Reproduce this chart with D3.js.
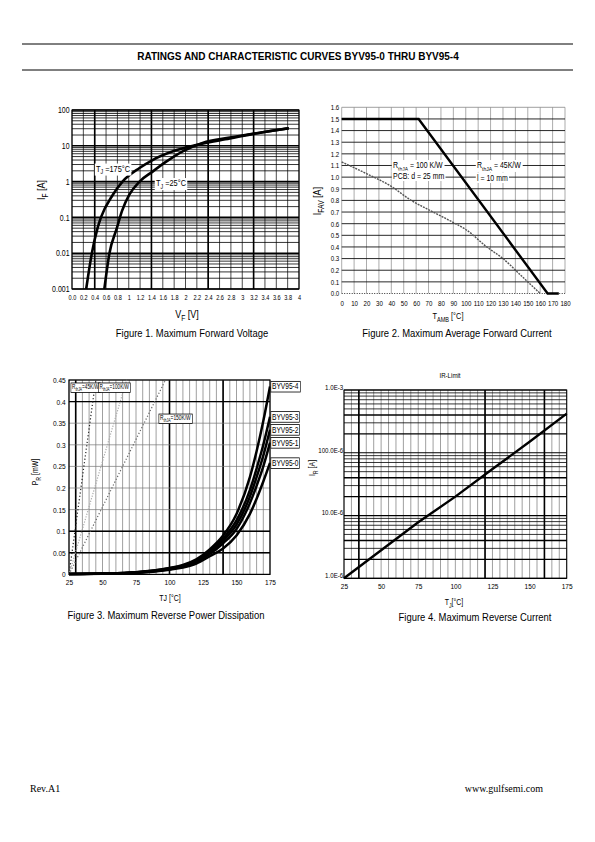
<!DOCTYPE html>
<html><head><meta charset="utf-8">
<script src="https://cdn.jsdelivr.net/npm/d3@7"></script>
<style>
body{margin:0;background:#fff}
svg{display:block}
text{font-family:"Liberation Sans",Arial,sans-serif;fill:#000}
</style>
</head><body>
<svg id="c" width="595" height="842"></svg>
<script>
// ---------------- DATA ----------------
// Figure 1 : forward characteristic
const fig1XTickValues = [0,0.2,0.4,0.6,0.8,1,1.2,1.4,1.6,1.8,2,2.2,2.4,2.6,2.8,3,3.2,3.4,3.6,3.8,4];
const fig1XTickLabels = ["0.0","0.2","0.4","0.6","0.8","1","1.2","1.4","1.6","1.8","2","2.2","2.4","2.6","2.8","3","3.2","3.4","3.6","3.8","4"];
const fig1YTickValues = [0.001,0.01,0.1,1,10,100];
const fig1YTickLabels = ["0.001","0.01","0.1","1","10","100"];
const fig1V175 = [0.25,0.35,0.45,0.51,0.72,0.89,1.19,1.42,1.78,2.19,2.78,3.36,3.82];
const fig1I175 = [0.001,0.01,0.05,0.1,0.43,1,2.4,4,7,10.5,16,24,31];
const fig1V25  = [0.57,0.66,0.79,0.88,1.01,1.19,1.42,1.66,1.95,2.3,2.78,3.36,3.82];
const fig1I25  = [0.001,0.01,0.05,0.15,0.43,1,1.9,3.6,7,12,17,24,31];
const fig1ThickV = [0.4,1.4,2.4,3.2];

// Figure 2 : derating
const fig2XTickValues = [0,10,20,30,40,50,60,70,80,90,100,110,120,130,140,150,160,170,180];
const fig2YTickValues = [0,0.1,0.2,0.3,0.4,0.5,0.6,0.7,0.8,0.9,1.0,1.1,1.2,1.3,1.4,1.5,1.6];
const fig2T45  = [0,62,166,175];
const fig2I45  = [1.5,1.5,0,0];
const fig2T100 = [0,20,40,56,70,90,100,117,130,145,160];
const fig2I100 = [1.13,1.03,0.92,0.80,0.72,0.61,0.55,0.40,0.30,0.15,0.0];

// Figure 3 : reverse power dissipation
const fig3XTickValues = [25,50,75,100,125,150,175];
const fig3YTickValues = [0,0.05,0.1,0.15,0.2,0.25,0.3,0.35,0.4,0.45];
const fig3YTickLabels = ["0","0.05","0.1","0.15","0.2","0.25","0.3","0.35","0.4","0.45"];
const fig3Temps = [25,50,75,100,110,120,130,140,150,160,165,170,175];
const fig3Names = ["BYV95-4","BYV95-3","BYV95-2","BYV95-1","BYV95-0"];
const fig3P4 = [0.001,0.002,0.005,0.015,0.022,0.035,0.058,0.09,0.14,0.225,0.285,0.355,0.435];
const fig3P3 = [0.001,0.002,0.005,0.014,0.020,0.032,0.053,0.083,0.125,0.195,0.245,0.300,0.365];
const fig3P2 = [0.001,0.002,0.0045,0.013,0.019,0.030,0.050,0.078,0.115,0.180,0.225,0.275,0.335];
const fig3P1 = [0.001,0.0018,0.004,0.012,0.018,0.028,0.047,0.072,0.105,0.165,0.205,0.250,0.305];
const fig3P0 = [0.001,0.0015,0.0035,0.011,0.016,0.025,0.042,0.060,0.090,0.140,0.175,0.215,0.258];
const fig3RthLabels = ["=45K/W","=100K/W","=150K/W"];
const fig3RthT = [[25,45],[25,68],[25,97]];
const fig3RthP = [[0,0.45],[0,0.45],[0,0.45]];
const fig3ThickV = [30,100,140];
const fig3ThickH = [0.05,0.1,0.4];

// Figure 4 : reverse current
const fig4XTickValues = [25,50,75,100,125,150,175];
const fig4YTickValues = [1e-6,1e-5,1e-4,1e-3];
const fig4YTickLabels = ["1.0E-6","10.0E-6","100.0E-6","1.0E-3"];
const fig4Temps = [25,50,75,100,125,150,175];
const fig4IR = [1.0e-6,2.8e-6,7.8e-6,2.0e-5,5.5e-5,1.5e-4,4.2e-4];
const fig4ThickV = [35,120,160];

// ---------------- DRAW ----------------
const svg = d3.select("#c");
const NARROW = 0.82;

// header / footer
svg.append("line").attr("x1",22).attr("x2",573).attr("y1",44).attr("y2",44).attr("stroke","#000").attr("stroke-width",1);
svg.append("line").attr("x1",22).attr("x2",573).attr("y1",70).attr("y2",70).attr("stroke","#000").attr("stroke-width",1);
svg.append("text").attr("x",298).attr("y",60).attr("text-anchor","middle")
  .style("font-weight","bold").style("font-size","10px")
  .text("RATINGS AND CHARACTERISTIC CURVES BYV95-0 THRU BYV95-4");
svg.append("text").attr("x",30).attr("y",792).style("font-family","'Liberation Serif','Times New Roman',serif").style("font-size","10px").text("Rev.A1");
svg.append("text").attr("x",543).attr("y",792).attr("text-anchor","end").style("font-family","'Liberation Serif','Times New Roman',serif").style("font-size","10px").text("www.gulfsemi.com");

function hline(g,x0,x1,y,stroke,w,dash){const l=g.append("line").attr("x1",x0).attr("x2",x1).attr("y1",y).attr("y2",y).attr("stroke",stroke).attr("stroke-width",w);if(dash)l.attr("stroke-dasharray",dash);return l;}
function vline(g,x,y0,y1,stroke,w,dash){const l=g.append("line").attr("x1",x).attr("x2",x).attr("y1",y0).attr("y2",y1).attr("stroke",stroke).attr("stroke-width",w);if(dash)l.attr("stroke-dasharray",dash);return l;}
function styleAxis(g,fs,k){g.select(".domain").remove();g.selectAll(".tick line").remove();g.selectAll("text").style("font-size",fs+"px").style("font-family",null).attr("fill","#000").attr("transform",`scale(${k||NARROW},1)`);}
function ntext(g,x,y,str,fs,k,anchor){
  const gg=g.append("g").attr("transform",`translate(${x},${y}) scale(${k||NARROW},1)`);
  return gg.append("text").attr("text-anchor",anchor||"middle").style("font-size",fs+"px").text(str);
}
function subLabel(g,x,y,main,sub,rest,fs,rotate,k){
  const gg=g.append("g").attr("transform",`translate(${x},${y}) ${rotate?"rotate(-90)":""} scale(${k||NARROW},1)`);
  const t=gg.append("text").attr("text-anchor","middle").style("font-size",fs+"px");
  t.append("tspan").text(main);
  t.append("tspan").attr("dy",fs*0.3).style("font-size",(fs*0.75)+"px").text(sub);
  t.append("tspan").attr("dy",-fs*0.3).text(rest);
  return t;
}
function labelBox(g,x,y,parts,fs,border,k){
  const gg=g.append("g").attr("transform",`translate(${x},${y}) scale(${k||NARROW},1)`);
  const t=gg.append("text").style("font-size",fs+"px");
  parts.forEach(p=>{const s=t.append("tspan").text(p.t);if(p.sub){s.attr("dy",fs*0.3).style("font-size",(fs*0.72)+"px");}if(p.up){s.attr("dy",-fs*0.3);} });
  const bb=t.node().getBBox();
  gg.insert("rect","text").attr("x",bb.x-1.5).attr("y",bb.y-0.3).attr("width",bb.width+3).attr("height",bb.height+0.6)
    .attr("fill","#fff").attr("stroke",border?"#000":"none").attr("stroke-width",0.8);
  return t;
}

// ===== Figure 1 =====
{
  const g=svg.append("g");
  const x=d3.scaleLinear().domain([0,4]).range([72,299]);
  const y=d3.scaleLog().domain([0.001,100]).range([289,110]);
  d3.range(0,4.0001,0.2).forEach(v=>vline(g,x(v),y(100),y(0.001),"#000",0.7));
  fig1ThickV.forEach(v=>vline(g,x(v),y(100),y(0.001),"#000",1.6));
  [0.001,0.01,0.1,1,10].forEach(d=>{for(let m=2;m<=9;m++) hline(g,x(0),x(4),y(d*m),"#000",0.8);});
  fig1YTickValues.forEach(v=>hline(g,x(0),x(4),y(v),"#000",1.6));
  g.append("rect").attr("x",x(0)).attr("y",y(100)).attr("width",x(4)-x(0)).attr("height",y(0.001)-y(100)).attr("fill","none").attr("stroke","#000").attr("stroke-width",1);
  const line=d3.line().x(d=>x(d[0])).y(d=>y(d[1])).curve(d3.curveMonotoneX);
  g.append("path").datum(fig1V175.map((v,i)=>[v,fig1I175[i]])).attr("d",line).attr("fill","none").attr("stroke","#000").attr("stroke-width",2.6);
  g.append("path").datum(fig1V25.map((v,i)=>[v,fig1I25[i]])).attr("d",line).attr("fill","none").attr("stroke","#000").attr("stroke-width",2.6);
  labelBox(g,96,171.5,[{t:"T"},{t:"J",sub:1},{t:" =175°C",up:1}],9);
  labelBox(g,156,186,[{t:"T"},{t:"J",sub:1},{t:" =25°C",up:1}],9);
  const ax=g.append("g").attr("transform",`translate(0,${y(0.001)})`)
    .call(d3.axisBottom(x).tickValues(fig1XTickValues).tickFormat((d,i)=>fig1XTickLabels[i]).tickSize(0).tickPadding(5));
  styleAxis(ax,8,0.7);
  const ay=g.append("g").attr("transform",`translate(${x(0)},0)`)
    .call(d3.axisLeft(y).tickValues(fig1YTickValues).tickFormat((d,i)=>fig1YTickLabels[i]).tickSize(0).tickPadding(3));
  styleAxis(ay,8.5);
  subLabel(g,45,190,"I","F"," [A]",11,true);
  subLabel(g,187,318,"V","F"," [V]",11,false);
  ntext(g,192,337,"Figure 1. Maximum Forward Voltage",11,0.86);
}

// ===== Figure 2 =====
{
  const g=svg.append("g");
  const x=d3.scaleLinear().domain([0,180]).range([341.7,565]);
  const y=d3.scaleLinear().domain([0,1.6]).range([293.5,107.3]);
  fig2XTickValues.forEach(v=>vline(g,x(v),y(1.6),y(0),"#888",0.7));
  fig2YTickValues.forEach(v=>{ if(v>0 && v<1.6) hline(g,x(0),x(180),y(v),"#111",0.9); });
  hline(g,x(0),x(180),y(1.6),"#888",0.8);
  hline(g,x(0),x(180),y(0),"#333",1.2,"1,1.5");
  const line=d3.line().x(d=>x(d[0])).y(d=>y(d[1]));
  g.append("path").datum(fig2T100.map((t,i)=>[t,fig2I100[i]])).attr("d",line.curve(d3.curveMonotoneX)).attr("fill","none").attr("stroke","#555").attr("stroke-width",1.4).attr("stroke-dasharray","2,1");
  g.append("path").datum(fig2T45.map((t,i)=>[t,fig2I45[i]])).attr("d",d3.line().x(d=>x(d[0])).y(d=>y(d[1]))).attr("fill","none").attr("stroke","#000").attr("stroke-width",2.4);
  labelBox(g,393,168,[{t:"R"},{t:"thJA",sub:1},{t:" = 100 K/W",up:1}],8.5);
  labelBox(g,393,178.5,[{t:"PCB: d = 25 mm"}],8.5);
  labelBox(g,477,168,[{t:"R"},{t:"thJA",sub:1},{t:" = 45K/W",up:1}],8.5);
  labelBox(g,477,180.5,[{t:"l = 10 mm"}],8.5);
  const ax=g.append("g").attr("transform",`translate(0,${y(0)})`)
    .call(d3.axisBottom(x).tickValues(fig2XTickValues).tickFormat(d3.format("d")).tickSize(0).tickPadding(7));
  styleAxis(ax,7.5);
  const ay=g.append("g").attr("transform",`translate(${x(0)},0)`)
    .call(d3.axisLeft(y).tickValues(fig2YTickValues).tickFormat(d3.format(".1f")).tickSize(0).tickPadding(3));
  styleAxis(ay,7.5);
  subLabel(g,321,201,"I","FAV"," [A]",11,true);
  subLabel(g,448,319,"T","AMB"," [°C]",9,false);
  ntext(g,457,337,"Figure 2. Maximum Average Forward Current",11,0.86);
}

// ===== Figure 3 =====
{
  const g=svg.append("g");
  const x=d3.scaleLinear().domain([25,175]).range([69,270]);
  const y=d3.scaleLinear().domain([0,0.45]).range([574.4,380]);
  d3.range(25,175.001,5).forEach(v=>vline(g,x(v),y(0.45),y(0),"#777",0.7));
  fig3ThickV.forEach(v=>vline(g,x(v),y(0.45),y(0),"#000",1.6));
  fig3YTickValues.forEach(v=>hline(g,x(25),x(175),y(v),"#777",0.7));
  fig3ThickH.forEach(v=>hline(g,x(25),x(175),y(v),"#000",1.4));
  g.append("rect").attr("x",x(25)).attr("y",y(0.45)).attr("width",x(175)-x(25)).attr("height",y(0)-y(0.45)).attr("fill","none").attr("stroke","#000").attr("stroke-width",1.2);
  const lineR=d3.line().x(d=>x(d[0])).y(d=>y(d[1]));
  const rthStyle=[{c:"#222",d:"1.2,2.2"},{c:"#aaa",d:"1.2,1.5"},{c:"#666",d:"1.2,2"}];
  fig3RthT.forEach((ts,i)=>{
    g.append("path").datum(ts.map((t,j)=>[t,fig3RthP[i][j]])).attr("d",lineR).attr("fill","none")
      .attr("stroke",rthStyle[i].c).attr("stroke-width",1.2).attr("stroke-dasharray",rthStyle[i].d);
  });
  const series=[fig3P4,fig3P3,fig3P2,fig3P1,fig3P0];
  const line=d3.line().x(d=>x(d[0])).y(d=>y(d[1])).curve(d3.curveMonotoneX);
  series.forEach(s=>g.append("path").datum(fig3Temps.map((t,i)=>[t,s[i]])).attr("d",line).attr("fill","none").attr("stroke","#000").attr("stroke-width",2.5));
  series.forEach((s,i)=>labelBox(g,272,y(s[s.length-1])+3,[{t:fig3Names[i]}],8.5,true,0.78));
  labelBox(g,72,389,[{t:"R"},{t:"thJA",sub:1},{t:fig3RthLabels[0],up:1}],6.5,true,0.72);
  labelBox(g,99.5,389,[{t:"R"},{t:"thJA",sub:1},{t:fig3RthLabels[1],up:1}],6.5,true,0.72);
  labelBox(g,160,420,[{t:"R"},{t:"thJA",sub:1},{t:fig3RthLabels[2],up:1}],6.5,true,0.75);
  const ax=g.append("g").attr("transform",`translate(0,${y(0)})`)
    .call(d3.axisBottom(x).tickValues(fig3XTickValues).tickFormat(d3.format("d")).tickSize(0).tickPadding(5));
  styleAxis(ax,8);
  const ay=g.append("g").attr("transform",`translate(${x(25)},0)`)
    .call(d3.axisLeft(y).tickValues(fig3YTickValues).tickFormat((d,i)=>fig3YTickLabels[i]).tickSize(0).tickPadding(4));
  styleAxis(ay,8);
  subLabel(g,38,472,"P","R"," [mW]",8.5,true);
  ntext(g,170,601,"TJ [°C]",8.5);
  ntext(g,166,619,"Figure 3. Maximum Reverse Power Dissipation",11,0.86);
}

// ===== Figure 4 =====
{
  const g=svg.append("g");
  const x=d3.scaleLinear().domain([25,175]).range([344,566.7]);
  const y=d3.scaleLog().domain([1e-6,1e-3]).range([578.3,390]);
  d3.range(25,175.001,5).forEach(v=>vline(g,x(v),y(1e-3),y(1e-6),"#777",0.7));
  fig4ThickV.forEach(v=>vline(g,x(v),y(1e-3),y(1e-6),"#000",1.6));
  [1e-6,1e-5,1e-4].forEach(d=>{for(let m=2;m<=9;m++) hline(g,x(25),x(175),y(d*m),"#000",(m===2||m===4)?1.4:0.8);});
  fig4YTickValues.forEach(v=>hline(g,x(25),x(175),y(v),"#000",1.2));
  g.append("rect").attr("x",x(25)).attr("y",y(1e-3)).attr("width",x(175)-x(25)).attr("height",y(1e-6)-y(1e-3)).attr("fill","none").attr("stroke","#000").attr("stroke-width",1);
  const line=d3.line().x(d=>x(d[0])).y(d=>y(d[1]));
  g.append("path").datum(fig4Temps.map((t,i)=>[t,fig4IR[i]])).attr("d",line).attr("fill","none").attr("stroke","#000").attr("stroke-width",2.4);
  ntext(g,450,378,"IR-Limit",7.5);
  const ax=g.append("g").attr("transform",`translate(0,${y(1e-6)})`)
    .call(d3.axisBottom(x).tickValues(fig4XTickValues).tickFormat(d3.format("d")).tickSize(0).tickPadding(5));
  styleAxis(ax,8);
  const ay=g.append("g").attr("transform",`translate(${x(25)},0)`)
    .call(d3.axisLeft(y).tickValues(fig4YTickValues).tickFormat((d,i)=>fig4YTickLabels[i]).tickSize(0).tickPadding(1));
  styleAxis(ay,7.5);
  ay.selectAll("text").attr("dy","-0.1em");
  subLabel(g,315,468,"I","R"," [A]",8.5,true);
  subLabel(g,454,605,"T","J","[°C]",8.5,false);
  ntext(g,475,621,"Figure 4. Maximum Reverse Current",11,0.86);
}
</script>
</body></html>
